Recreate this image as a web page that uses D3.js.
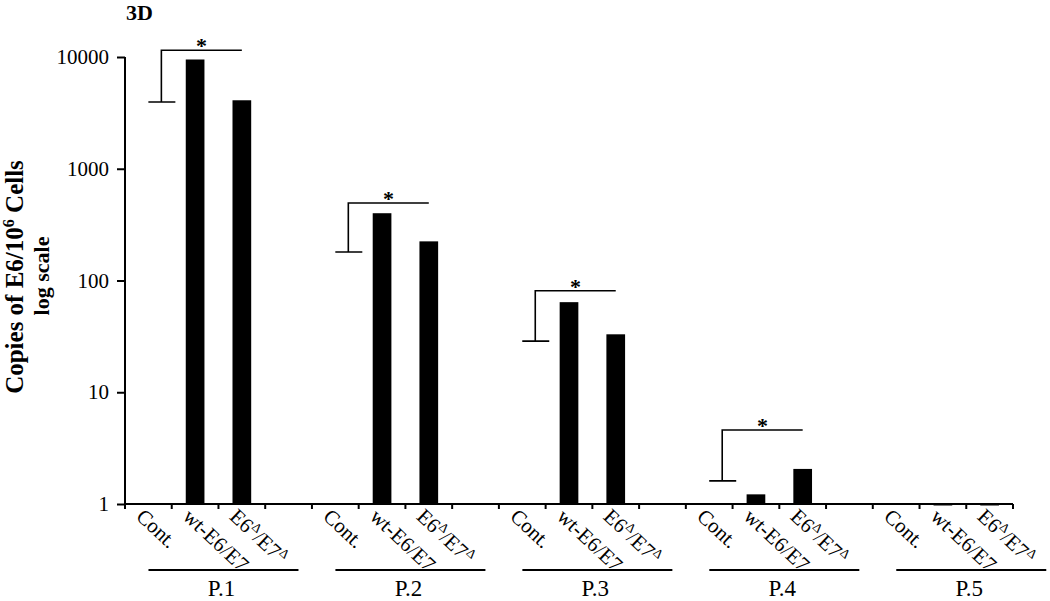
<!DOCTYPE html>
<html><head><meta charset="utf-8">
<script src="https://cdn.jsdelivr.net/npm/d3@7"></script>
<style>
html,body{margin:0;padding:0;background:#fff;}
svg{display:block;}
text{font-family:"Liberation Serif","Times New Roman",serif;fill:#000;}
</style></head>
<body>
<svg id="chart" width="1050" height="601"></svg>
<script>
// ---- data ----
const groups = ["P.1", "P.2", "P.3", "P.4", "P.5"];
const conditions = ["Cont.", "wt-E6/E7", "E6Δ/E7Δ"];
const wtValues = [9500, 400, 64, 1.22, 0.97];
const e6Values = [4100, 224, 33, 2.06, 0.97];
const bracketLow = [3960, 180, 28.7, 1.61, null];
const bracketHigh = [11500, 494, 81, 4.6, null];
const yTickValues = [1, 10, 100, 1000, 10000];
const yTickLabels = ["1", "10", "100", "1000", "10000"];

// ---- layout ----
const svg = d3.select("#chart");
const plotLeft = 125, plotRight = 1013, plotTop = 57, plotBottom = 504;
const slotsPerGroup = 4;
const nSlots = groups.length * slotsPerGroup - 1;

const x = d3.scaleBand().domain(d3.range(nSlots)).range([plotLeft, plotRight]).padding(0);
const y = d3.scaleLog().domain([1, 10000]).range([plotBottom, plotTop]);
const bw = x.bandwidth();
const slot = (g, c) => g * slotsPerGroup + c;

// bars
const barW = bw * 0.4;
const barData = [];
groups.forEach((g, i) => {
  barData.push({g: i, c: 1, v: wtValues[i]});
  barData.push({g: i, c: 2, v: e6Values[i]});
});
svg.append("g").selectAll("rect").data(barData).join("rect")
  .attr("x", d => x(slot(d.g, d.c)) + bw / 2 - barW / 2)
  .attr("width", barW)
  .attr("y", d => Math.min(y(d.v), y(1)))
  .attr("height", d => Math.max(Math.abs(y(1) - y(d.v)), 1.5))
  .attr("fill", "#000");

// y axis
const yAxis = d3.axisLeft(y).tickValues(yTickValues)
  .tickFormat((d, i) => yTickLabels[i]).tickSize(8).tickPadding(8);
const gy = svg.append("g").attr("transform", `translate(${plotLeft},0)`).call(yAxis);
gy.select(".domain").attr("stroke", "#000").attr("stroke-width", 2).attr("d", `M0,${plotTop}V${plotBottom + 1}`);
gy.selectAll(".tick line").attr("stroke", "#000").attr("stroke-width", 2);
gy.selectAll(".tick text").style("font-size", "21px").style("font-family", '"Liberation Serif",serif');

// x axis (ticks at band boundaries)
const xTicks = d3.range(nSlots + 1).map(i => plotLeft + i * bw);
const gx = svg.append("g");
gx.append("line").attr("x1", plotLeft - 1).attr("x2", plotRight).attr("y1", plotBottom).attr("y2", plotBottom)
  .attr("stroke", "#000").attr("stroke-width", 2);
gx.selectAll("line.tk").data(xTicks).join("line").attr("class", "tk")
  .attr("x1", d => d).attr("x2", d => d).attr("y1", plotBottom).attr("y2", plotBottom + 5)
  .attr("stroke", "#000").attr("stroke-width", 2);

// rotated category labels
groups.forEach((g, gi) => {
  conditions.forEach((c, ci) => {
    const x0 = x(slot(gi, ci)) + 10, y0 = 518;
    const t = svg.append("text")
      .attr("transform", `translate(${x0},${y0}) rotate(43)`)
      .style("font-size", "21px");
    if (c.includes("Δ")) {
      t.append("tspan").text("E6");
      t.append("tspan").text("Δ").attr("dy", -8).style("font-size", "13px");
      t.append("tspan").text("/E7").attr("dy", 8);
      t.append("tspan").text("Δ").attr("dy", -8).style("font-size", "13px");
    } else {
      t.text(c);
    }
  });
});

// group underlines and labels
groups.forEach((g, gi) => {
  const gStart = x(slot(gi, 0));
  const gCenter = gStart + slotsPerGroup * bw / 2;
  svg.append("line").attr("x1", gCenter - 70).attr("x2", gCenter + 80)
    .attr("y1", 570).attr("y2", 570).attr("stroke", "#000").attr("stroke-width", 2);
  svg.append("text").attr("x", gCenter + 3).attr("y", 596).attr("text-anchor", "middle")
    .style("font-size", "23px").text(g);
});

// significance brackets
groups.forEach((g, gi) => {
  if (bracketLow[gi] == null) return;
  const cx = x(slot(gi, 0)) + bw / 2 + 13;
  const ex = x(slot(gi, 2)) + bw / 2;
  const yl = y(bracketLow[gi]), yh = y(bracketHigh[gi]);
  const path = `M${cx - 13},${yl}H${cx + 14}M${cx},${yl}V${yh}H${ex}`;
  svg.append("path").attr("d", path).attr("fill", "none").attr("stroke", "#000").attr("stroke-width", 1.6);
  svg.append("text").attr("x", (cx + ex) / 2).attr("y", yh + 3).attr("text-anchor", "middle")
    .style("font-size", "22px").style("font-weight", "bold").text("*");
});

// title
svg.append("text").attr("x", 126).attr("y", 20).style("font-size", "22px").style("font-weight", "bold").text("3D");

// y axis title
const yt = svg.append("text").attr("transform", "translate(23,277) rotate(-90)")
  .attr("text-anchor", "middle").style("font-size", "25px").style("font-weight", "bold");
yt.append("tspan").text("Copies of E6/10");
yt.append("tspan").text("6").attr("dy", -9).style("font-size", "16px");
yt.append("tspan").text(" Cells").attr("dy", 9);
svg.append("text").attr("transform", "translate(49,276) rotate(-90)")
  .attr("text-anchor", "middle").style("font-size", "22px").style("font-weight", "bold").text("log scale");
</script>
</body></html>
